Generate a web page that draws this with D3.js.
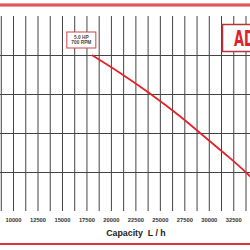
<!DOCTYPE html>
<html>
<head>
<meta charset="utf-8">
<script src="https://cdn.jsdelivr.net/npm/d3@7"></script>
<style>
  body { margin: 0; background: #fff; }
  svg { display: block; }
</style>
</head>
<body>
<div id="chart"></div>
<script>
// pump curve (capacity L/h, head)
const capacity = [18000, 21000, 24000, 27000, 30000, 32000, 34000, 34500];
const head = [40, 35.2, 30, 24.3, 18, 13.8, 9.3, 8.1];
const xTicks = [10000, 12500, 15000, 17500, 20000, 22500, 25000, 27500, 30000, 32500, 35000];
const hGrid = [10, 20, 30, 40];
const curveLabel = ["5.0 HP", "700 RPM"];

const W = 250, H = 250;
const svg = d3.select("#chart").append("svg")
  .attr("width", W).attr("height", H);

// x scale: 1250 per minor column
let x = d3.scaleLinear().domain([12500, 33750]).range([38, 246]);
let y = d3.scaleLinear().domain([0, 50]).range([211, 16]);

// top / bottom red rules
svg.append("rect").attr("x", 0).attr("y", 3.5).attr("width", W).attr("height", 3).attr("fill", "#d9333a");
svg.append("rect").attr("x", 0).attr("y", 4.6).attr("width", W).attr("height", 0.8).attr("fill", "#ec8a8e");
svg.append("rect").attr("x", 0).attr("y", 243).attr("width", W).attr("height", 2).attr("fill", "#d9333a");

// vertical grid, every 1250
let vLines = d3.range(8750, 36251, 1250);
svg.append("g").selectAll("line").data(vLines).enter().append("line")
  .attr("x1", d => x(d)).attr("x2", d => x(d))
  .attr("y1", y(50)).attr("y2", y(0))
  .attr("stroke", "#444").attr("stroke-width", 1);

// horizontal grid
svg.append("g").selectAll("line").data(hGrid).enter().append("line")
  .attr("x1", 0).attr("x2", W)
  .attr("y1", d => Math.round(y(d)) + 0.5).attr("y2", d => Math.round(y(d)) + 0.5)
  .attr("stroke", "#444").attr("stroke-width", 1);

// tick labels
svg.append("g").selectAll("text").data(xTicks).enter().append("text")
  .attr("x", d => x(d)).attr("y", 222)
  .attr("text-anchor", "middle")
  .attr("font-family", "Liberation Sans, Arial, sans-serif")
  .attr("font-size", 5.8).attr("font-weight", "bold")
  .attr("fill", "#333")
  .text(d => d);

// axis title
svg.append("text")
  .attr("x", 136).attr("y", 236)
  .attr("text-anchor", "middle")
  .attr("font-family", "Liberation Sans, Arial, sans-serif")
  .attr("font-size", 8.8).attr("font-weight", "bold")
  .attr("fill", "#222")
  .attr("xml:space", "preserve")
  .text("Capacity  L / h");

// the curve
let pts = capacity.map((c, i) => [c, head[i]]);
let line = d3.line().x(d => x(d[0])).y(d => y(d[1])).curve(d3.curveMonotoneX);
svg.append("path").datum(pts)
  .attr("d", line)
  .attr("fill", "none")
  .attr("stroke", "#e3222a")
  .attr("stroke-width", 1.8);

// curve label box
let bx = x(capacity[0]) - 25, by = y(head[0]) - 23;
svg.append("rect")
  .attr("x", bx).attr("y", by).attr("width", 29).attr("height", 16)
  .attr("fill", "#fff").attr("stroke", "#c9454b").attr("stroke-width", 1);
svg.append("g").selectAll("text").data(curveLabel).enter().append("text")
  .attr("x", bx + 14.5).attr("y", (d, i) => by + 6.5 + i * 5.8)
  .attr("text-anchor", "middle")
  .attr("font-family", "Liberation Sans, Arial, sans-serif")
  .attr("font-size", 4.8).attr("font-weight", "bold")
  .attr("fill", "#444")
  .text(d => d);

// model badge (cut off at the right edge)
svg.append("rect")
  .attr("x", 222.5).attr("y", 24.5).attr("width", 40).attr("height", 27)
  .attr("fill", "#fff").attr("stroke", "#b8343a").attr("stroke-width", 1.5);
svg.append("text")
  .attr("transform", "translate(234,45.5) scale(0.68,1)")
  .attr("font-family", "Liberation Sans Narrow, DejaVu Sans Condensed, sans-serif")
  .attr("font-size", 21).attr("font-weight", "bold")
  .attr("fill", "#e02226")
  .text("AD");
</script>
</body>
</html>
